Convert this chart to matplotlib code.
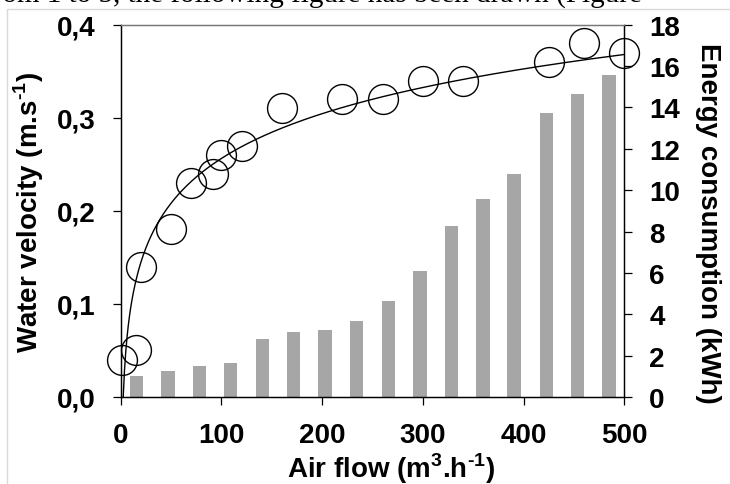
import numpy as np
import matplotlib
matplotlib.use('Agg')
import matplotlib.pyplot as plt
from matplotlib.patches import Rectangle

plt.rcParams['font.family'] = ['Liberation Sans', 'DejaVu Sans']
plt.rcParams['font.weight'] = 'bold'
plt.rcParams['mathtext.fontset'] = 'custom'
plt.rcParams['mathtext.rm'] = 'Liberation Sans:bold'
plt.rcParams['mathtext.bf'] = 'Liberation Sans:bold'

# measured water velocity vs air flow
flow_pts = [1, 15, 20, 50, 70, 92, 100, 120, 160, 220, 260, 300, 340, 425, 460, 500]
velocity = [0.04, 0.05, 0.14, 0.18, 0.23, 0.24, 0.26, 0.27, 0.31, 0.32, 0.32,
            0.34, 0.34, 0.36, 0.38, 0.37]

# energy consumption bars
flow_bars = [15.5, 46.8, 78, 109, 140.6, 171.8, 203, 234.3, 265.7, 297, 328.3,
             359.5, 390.6, 422.6, 453.4, 484.7]
energy = [1.03, 1.27, 1.48, 1.64, 2.80, 3.15, 3.25, 3.67, 4.64, 6.09, 8.25,
          9.55, 10.76, 13.73, 14.64, 15.57]

# log trend line  v = a*ln(Q) + b
fit_a, fit_b = 0.0694, -0.0633

vel_ticks = [0.0, 0.1, 0.2, 0.3, 0.4]
vel_labels = ['0,0', '0,1', '0,2', '0,3', '0,4']
energy_ticks = list(range(0, 19, 2))
flow_ticks = [0, 100, 200, 300, 400, 500]

W, H = 730, 485
fig = plt.figure(figsize=(W / 100, H / 100), dpi=100)

# text line of the page, cut at the top
fig.text(-17 / W, 1 - 3 / H, 'from 1 to 5, the following figure has been drawn (Figure',
         family='Liberation Serif', fontweight='normal', fontsize=21,
         va='baseline', ha='left')

# light frame of the figure box
fig.patches.append(Rectangle((7 / W, -0.1), 1.2, 1 - 9.5 / H + 0.1,
                             transform=fig.transFigure, fill=False,
                             edgecolor='#d9d9d9', linewidth=1))

ax = fig.add_axes([120.7 / W, 1 - 398 / H, (624.3 - 120.7) / W, (398 - 25.7) / H])
ax2 = ax.twinx()
ax.set_zorder(ax2.get_zorder() + 1)
ax.patch.set_visible(False)

ax2.bar(flow_bars, energy, width=13.4, color='#a6a6a6', edgecolor='none')
ax2.set_ylim(0, 18)
ax2.set_yticks(energy_ticks)

q = np.linspace(np.exp(-fit_b / fit_a), 500, 400)
ax.plot(q, fit_a * np.log(q) + fit_b, color='black', linewidth=1)
ax.plot(flow_pts, velocity, linestyle='none', marker='o', markersize=21.5,
        markerfacecolor='none', markeredgecolor='black', markeredgewidth=1,
        clip_on=False)

ax.set_xlim(0, 500)
ax.set_ylim(0, 0.4)
ax.set_xticks(flow_ticks)
ax.set_yticks(vel_ticks)
ax.set_yticklabels(vel_labels)

for a in (ax, ax2):
    for s in a.spines.values():
        s.set_linewidth(0.9)
    a.spines['top'].set_color('#777777')
ax.tick_params(axis='both', direction='out', length=6, width=0.9, labelsize=20, pad=12)
ax.tick_params(axis='x', pad=12)
ax2.tick_params(axis='y', direction='out', length=6, width=0.9, labelsize=20, pad=12)
ax.yaxis.get_major_ticks()[-1].tick1line.set_color('#777777')
ax2.yaxis.get_major_ticks()[-1].tick2line.set_color('#777777')

fig.text(29 / W, 1 - 212 / H, r'Water velocity (m.s$^{\text{-}1}$)', rotation=90,
         fontsize=20, fontweight='bold', ha='center', va='center')
fig.text(708 / W, 1 - 223 / H, 'Energy consumption (kWh)', rotation=-90,
         fontsize=20, fontweight='bold', ha='center', va='center')
fig.text(391 / W, 1 - 469 / H, r'Air flow (m$^{3}$.h$^{\text{-}1}$)',
         fontsize=20, fontweight='bold', ha='center', va='center')

fig.savefig('out.png', dpi=100)
